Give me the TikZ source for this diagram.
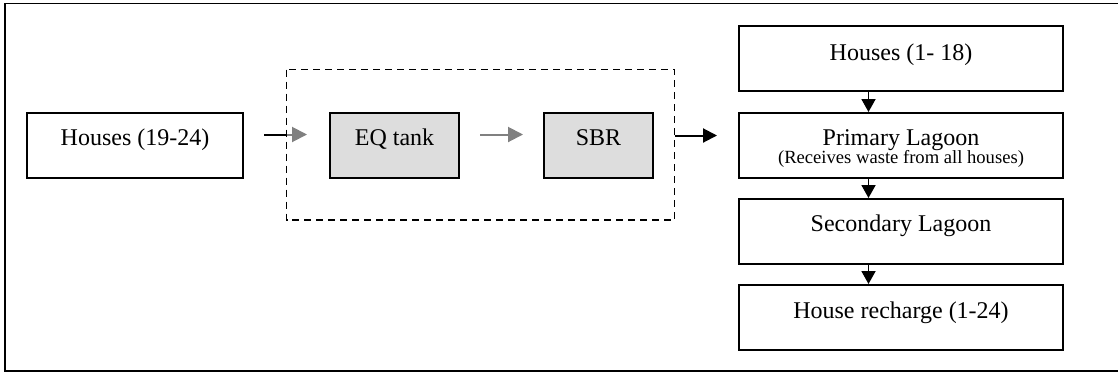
\documentclass[tikz,border=0pt]{standalone}
\usepackage{fontspec}
\setmainfont{Liberation Serif}
\usetikzlibrary{arrows.meta}
\definecolor{tankfill}{HTML}{DDDDDD}
\definecolor{flowgray}{HTML}{808080}
\tikzset{
  box/.style={draw=black, line width=2pt, fill=white, inner sep=0pt},
  tankbox/.style={box, fill=tankfill},
  lbl/.style={anchor=base, inner sep=0pt, font=\fontsize{24}{26}\selectfont},
  note/.style={anchor=base, inner sep=0pt, font=\fontsize{18.6}{20}\selectfont},
  blkflow/.style={draw=black, line width=2pt, -{Triangle[length=14pt,width=14pt]}},
  grayflow/.style={draw=flowgray, line width=2pt, -{Triangle[length=15pt,width=15pt]}},
  downflow/.style={draw=black, line width=1.8pt, -{Triangle[length=13pt,width=14pt]}},
  groupframe/.style={draw=black, line width=1.8pt, dash pattern=on 7pt off 5pt},
}
\begin{document}
\begin{tikzpicture}[x=1pt,y=-1pt]
\useasboundingbox (0,0) rectangle (1118,373);
\clip (0,0) rectangle (1118,373);
% outer frame (runs past the right edge)
\draw[line width=1.8pt] (1125,3.5) -- (5,3.5) -- (5,371) -- (1125,371);

% dashed treatment group
\draw[groupframe] (286.5,69.5) rectangle (674.5,220);

% left branch
\node[box, minimum width=216pt, minimum height=65pt] (h19) at (135,145) {};
\node[lbl] at (135,145.5) {Houses (19-24)};
\node[tankbox, minimum width=129pt, minimum height=65pt] (eq) at (394.5,145) {};
\node[lbl] at (394.5,145.5) {EQ tank};
\node[tankbox, minimum width=109pt, minimum height=65pt] (sbr) at (598.5,145) {};
\node[lbl] at (598.5,145.5) {SBR};

% right column
\node[box, minimum width=324pt, minimum height=65pt] (h118) at (901,58.5) {};
\node[lbl] at (901,60.5) {Houses (1- 18)};
\node[box, minimum width=324pt, minimum height=65pt] (prim) at (901,145.5) {};
\node[lbl] at (901,145) {Primary Lagoon};
\node[note] at (901,163) {(Receives waste from all houses)};
\node[box, minimum width=324pt, minimum height=65pt] (sec) at (901,231.5) {};
\node[lbl] at (901,231) {Secondary Lagoon};
\node[box, minimum width=324pt, minimum height=65pt] (rech) at (901,317.5) {};
\node[lbl] at (901,318) {House recharge (1-24)};

% horizontal flows
\coordinate (inflow) at (264,134.5);
\coordinate (gatein) at (287,134.5);
\coordinate (eqin) at (307,134.5);
\coordinate (eqout) at (480,134.5);
\coordinate (sbrin) at (523,134.5);
\coordinate (gateout) at (674.5,135.5);
\coordinate (primin) at (717,135.5);
\draw[line width=2pt] (inflow) -- (gatein);
\draw[grayflow] (gatein) -- (eqin);
\draw[grayflow] (eqout) -- (sbrin);
\draw[blkflow] (gateout) -- (primin);

% vertical flows down the lagoon column
\draw[downflow] (h118.south -| 868.5,0) -- (prim.north -| 868.5,0);
\draw[downflow] (prim.south -| 868.5,0) -- (sec.north -| 868.5,0);
\draw[downflow] (sec.south -| 868.5,0) -- (rech.north -| 868.5,0);
\end{tikzpicture}
\end{document}
